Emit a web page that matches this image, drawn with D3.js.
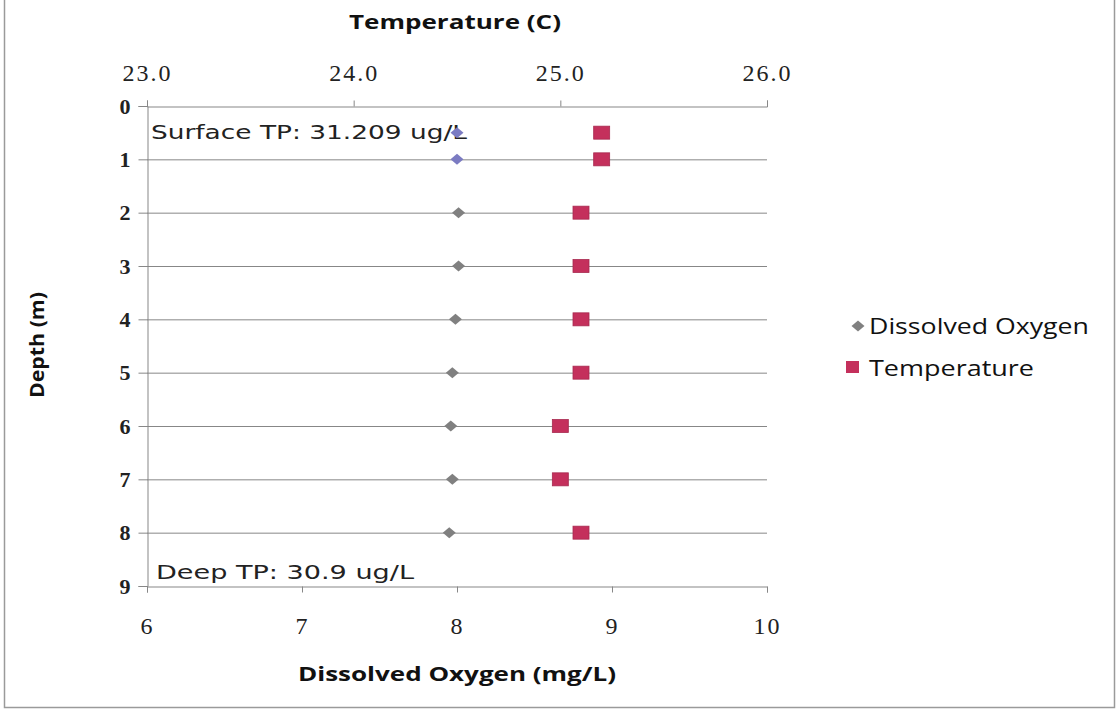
<!DOCTYPE html>
<html><head><meta charset="utf-8">
<script src="https://cdn.jsdelivr.net/npm/d3@7"></script>
<style>body{margin:0;background:#fff}</style>
</head><body>
<svg id="c" width="1117" height="714"></svg>
<script>
const depths = [0.5, 1, 2, 3, 4, 5, 6, 7, 8];
const dissolvedOxygen = [8.0, 8.0, 8.01, 8.01, 7.99, 7.97, 7.96, 7.97, 7.95];
const temperature = [25.2, 25.2, 25.1, 25.1, 25.1, 25.1, 25.0, 25.0, 25.1];
const doColors = ["#7b7bc2", "#7b7bc2", "#808080", "#808080", "#808080", "#808080", "#808080", "#808080", "#808080"];
const depthTicks = [0,1,2,3,4,5,6,7,8,9];
const doTicks = [6,7,8,9,10];
const tempTicks = [23,24,25,26];
const seriesNames = ["Dissolved Oxygen", "Temperature"];

const svg = d3.select("#c");
const L = 147, R = 767, T = 106, B = 586;
const y = d3.scaleLinear().domain([0, 9]).range([T, B]);
const xDO = d3.scaleLinear().domain([6, 10]).range([L, R]);
const xT = d3.scaleLinear().domain([23, 26]).range([L, R]);

svg.append("rect").attr("x",4.5).attr("y",-2).attr("width",1110).attr("height",709.5)
  .attr("fill","none").attr("stroke","#9a9a9a").attr("stroke-width",1.5);

// gridlines
svg.append("g").selectAll("line").data(depthTicks.slice(1,9)).join("line")
  .attr("x1",L).attr("x2",R).attr("y1",d=>y(d)+0.5).attr("y2",d=>y(d)+0.5)
  .attr("stroke","#878787").attr("stroke-width",1);

const serif = "'Liberation Serif', 'DejaVu Serif', serif";
const sans = "'Open Sans', 'Liberation Sans', sans-serif";

function styleAxis(g){
  g.select(".domain").attr("stroke","#878787");
  g.selectAll(".tick line").attr("stroke","#878787");
  g.selectAll(".tick text").attr("fill","#222").style("font-family",serif).style("font-size","24px").style("letter-spacing","2px");
}
// top axis
svg.append("g").attr("transform",`translate(0,${T+0.5})`)
  .call(d3.axisTop(xT).tickValues(tempTicks).tickFormat(d3.format(".1f")).tickSizeOuter(0).tickSize(6).tickPadding(20))
  .call(styleAxis);
// bottom axis
svg.append("g").attr("transform",`translate(0,${B+0.5})`)
  .call(d3.axisBottom(xDO).tickValues(doTicks).tickFormat(d3.format("d")).tickSizeOuter(0).tickSize(6).tickPadding(24))
  .call(styleAxis);
// left axis
svg.append("g").attr("transform",`translate(${L+0.5},0)`)
  .call(d3.axisLeft(y).tickValues(depthTicks).tickFormat(d3.format("d")).tickSizeOuter(0).tickSize(9).tickPadding(8))
  .call(styleAxis)
  .call(g=>g.selectAll(".tick text").style("font-weight","bold").style("font-size","22px").style("letter-spacing","0px"));

// titles
function title(x, yy, txt, len, rot){
  const t = svg.append("text").attr("text-anchor","middle")
    .style("font-family",sans).style("font-weight","bold").style("font-size","20px").attr("fill","#111")
    .attr("textLength",len).attr("lengthAdjust","spacingAndGlyphs").text(txt);
  if (rot) t.attr("transform",`translate(${x},${yy}) rotate(-90)`);
  else t.attr("x",x).attr("y",yy);
}
title(455, 29, "Temperature (C)", 212);
title(457, 681, "Dissolved Oxygen (mg/L)", 318);
title(44, 345, "Depth (m)", 106, true);

// annotations
svg.append("text").attr("x",151).attr("y",139).style("font-family","'DejaVu Sans', sans-serif").style("font-size","19px")
  .attr("textLength",316).attr("lengthAdjust","spacingAndGlyphs").attr("fill","#222").text("Surface TP: 31.209 ug/L");
svg.append("text").attr("x",156).attr("y",579).style("font-family","'DejaVu Sans', sans-serif").style("font-size","19px")
  .attr("textLength",258).attr("lengthAdjust","spacingAndGlyphs").attr("fill","#222").text("Deep TP: 30.9 ug/L");

// DO diamonds
const diamond = "M0,-5.5 L6.5,0 L0,5.5 L-6.5,0 Z";
svg.append("g").selectAll("path").data(depths).join("path")
  .attr("d",diamond)
  .attr("transform",(d,i)=>`translate(${xDO(dissolvedOxygen[i])},${y(d)})`)
  .attr("fill",(d,i)=>doColors[i]);
// Temperature squares
svg.append("g").selectAll("rect").data(depths).join("rect")
  .attr("x",(d,i)=>xT(temperature[i])-8).attr("y",d=>y(d)-6.5)
  .attr("width",16).attr("height",13)
  .attr("fill","#c4305c").attr("stroke","#a82a50").attr("stroke-width",0.8);

// legend
const lg = svg.append("g");
lg.append("path").attr("d",diamond).attr("transform","translate(858,326)").attr("fill","#808080");
lg.append("rect").attr("x",846).attr("y",361).attr("width",13).attr("height",12).attr("fill","#c4305c");
lg.append("text").attr("x",869).attr("y",334).style("font-family",sans).style("font-size","21px")
  .attr("textLength",220).attr("lengthAdjust","spacingAndGlyphs").attr("fill","#111").text(seriesNames[0]);
lg.append("text").attr("x",869).attr("y",376).style("font-family",sans).style("font-size","21px")
  .attr("textLength",165).attr("lengthAdjust","spacingAndGlyphs").attr("fill","#111").text(seriesNames[1]);
</script>
</body></html>
